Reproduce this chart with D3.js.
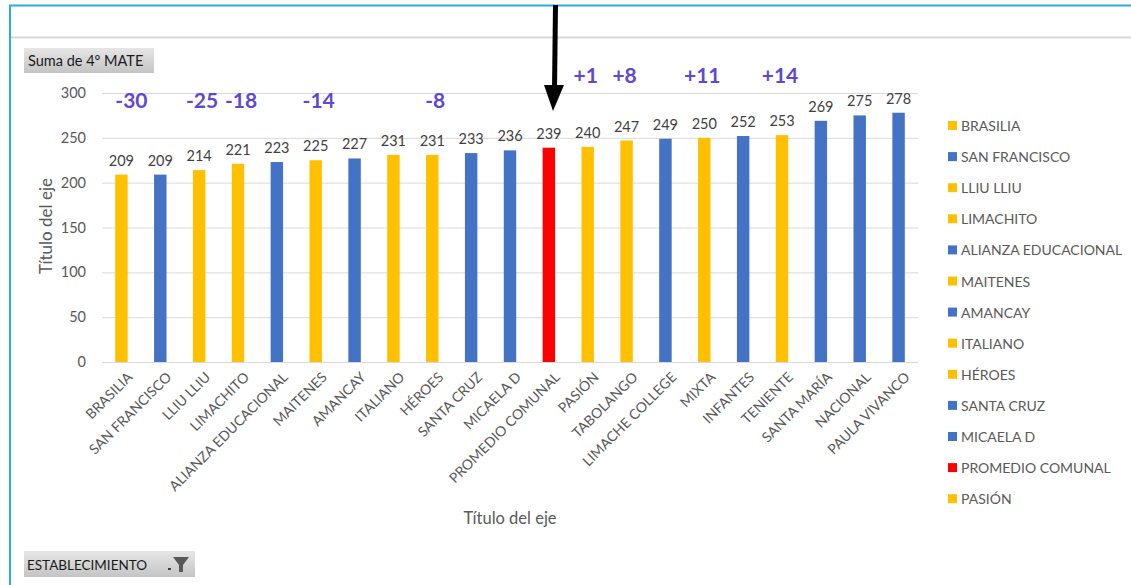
<!DOCTYPE html>
<html><head><meta charset="utf-8">
<script src="https://cdn.jsdelivr.net/npm/d3@7"></script>
<style>
html,body{margin:0;padding:0;background:#fff;}
svg{display:block;font-family:Lato,"Open Sans",sans-serif;}
</style></head>
<body>
<svg id="chart" width="1131" height="585"></svg>
<script>
const categories = ["BRASILIA","SAN FRANCISCO","LLIU LLIU","LIMACHITO","ALIANZA EDUCACIONAL","MAITENES","AMANCAY","ITALIANO","HÉROES","SANTA CRUZ","MICAELA D","PROMEDIO COMUNAL","PASIÓN","TABOLANGO","LIMACHE COLLEGE","MIXTA","INFANTES","TENIENTE","SANTA MARÍA","NACIONAL","PAULA VIVANCO"];
const values = [209,209,214,221,223,225,227,231,231,233,236,239,240,247,249,250,252,253,269,275,278];
const groups = ["y","b","y","y","b","y","b","y","y","b","b","r","y","y","b","y","b","y","b","b","b"];
const yTicks = [0,50,100,150,200,250,300];
const diffCats = ["BRASILIA","LLIU LLIU","LIMACHITO","MAITENES","HÉROES","PASIÓN","TABOLANGO","MIXTA","TENIENTE"];
const diffLabels = ["-30","-25","-18","-14","-8","+1","+8","+11","+14"];
const legendCount = 13;

const colors = {y:"#FFC000", b:"#4472C4", r:"#FF0000"};
const svg = d3.select("#chart");

// frame
svg.append("rect").attr("x",0).attr("y",0).attr("width",1131).attr("height",585).attr("fill","#fff");
svg.append("line").attr("x1",9).attr("x2",1131).attr("y1",5.5).attr("y2",5.5).attr("stroke","#2DAAE1").attr("stroke-width",2);
svg.append("line").attr("x1",10).attr("x2",10).attr("y1",5).attr("y2",585).attr("stroke","#2DAAE1").attr("stroke-width",2);
svg.append("line").attr("x1",11).attr("x2",1131).attr("y1",37.5).attr("y2",37.5).attr("stroke","#d9d9d9").attr("stroke-width",2);

// gradient for buttons
const defs = svg.append("defs");
const g1 = defs.append("linearGradient").attr("id","btn").attr("x1",0).attr("y1",0).attr("x2",0).attr("y2",1);
g1.append("stop").attr("offset","0%").attr("stop-color","#e6e6e6");
g1.append("stop").attr("offset","100%").attr("stop-color","#c4c4c4");

svg.append("rect").attr("x",24).attr("y",48).attr("width",130).attr("height",25).attr("fill","url(#btn)");
svg.append("text").attr("x",28).attr("y",66).attr("font-size",14.5).attr("fill","#1a1a1a").text("Suma de 4º MATE");

svg.append("rect").attr("x",24).attr("y",551).attr("width",171).attr("height",26).attr("fill","url(#btn)");
svg.append("text").attr("x",27).attr("y",569.5).attr("font-size",13.5).attr("fill","#1a1a1a").text("ESTABLECIMIENTO");
// funnel icon
svg.append("path").attr("d","M173,557 L189,557 L183,565 L183,572 L179,572 L179,565 Z").attr("fill","#595959");
svg.append("rect").attr("x",168).attr("y",568).attr("width",3).attr("height",2).attr("fill","#404040");

const x = d3.scaleBand().domain(categories).range([102,918]).paddingInner(0.68).paddingOuter(0.34);
const y = d3.scaleLinear().domain([0,300]).range([362,93]);

// gridlines
svg.append("g").selectAll("line").data(yTicks).join("line")
  .attr("x1",102).attr("x2",918).attr("y1",d=>y(d)+0.5).attr("y2",d=>y(d)+0.5)
  .attr("stroke","#d9d9d9").attr("stroke-width",1);

// y axis
const yAxis = svg.append("g").attr("transform","translate(102,0)")
  .call(d3.axisLeft(y).tickValues(yTicks).tickSize(0).tickPadding(16));
yAxis.select(".domain").remove();
yAxis.selectAll("text").attr("font-size",14.5).attr("fill","#595959").attr("font-family","Lato,sans-serif");

// bars
svg.append("g").selectAll("rect").data(categories).join("rect")
  .attr("x",d=>x(d)).attr("width",x.bandwidth())
  .attr("y",(d,i)=>y(values[i])).attr("height",(d,i)=>y(0)-y(values[i]))
  .attr("fill",(d,i)=>colors[groups[i]]);

// x axis
const xAxis = svg.append("g").attr("transform","translate(0,362)")
  .call(d3.axisBottom(x).tickSize(0).tickPadding(10));
xAxis.select(".domain").attr("stroke","#d9d9d9").attr("stroke-width",1).attr("d","M102,0.5H918");
xAxis.selectAll("text").attr("font-size",14).attr("fill","#595959").attr("font-family","Lato,sans-serif")
  .attr("text-anchor","end").attr("dy",0)
  .attr("transform","translate(5,9) rotate(-45)");

// data labels
svg.append("g").selectAll("text").data(categories).join("text")
  .attr("x",d=>x(d)+x.bandwidth()/2).attr("y",(d,i)=>y(values[i])-9)
  .attr("text-anchor","middle").attr("font-size",14.5).attr("fill","#404040")
  .text((d,i)=>values[i]);

// axis titles
svg.append("text").attr("transform","translate(52,226) rotate(-90)").attr("text-anchor","middle")
  .attr("font-size",17).attr("fill","#595959").text("Título del eje");
svg.append("text").attr("x",510).attr("y",524).attr("text-anchor","middle")
  .attr("font-size",16.5).attr("fill","#595959").text("Título del eje");

// difference annotations
svg.append("g").selectAll("text").data(diffCats).join("text")
  .attr("x",(d,i)=>x(d)+x.bandwidth()/2 + (i===0?10:(i<5?3:-2)))
  .attr("y",(d,i)=>diffLabels[i][0]==="-"?108:83)
  .attr("text-anchor","middle").attr("font-size",21).attr("font-weight","bold")
  .attr("fill","#5E48D3").text((d,i)=>diffLabels[i]);

// arrow
svg.append("line").attr("x1",555.5).attr("y1",5).attr("x2",554.5).attr("y2",90).attr("stroke","#000").attr("stroke-width",5);
svg.append("path").attr("d","M544,85 L564,85 L553,111 Z").attr("fill","#000");

// legend
const leg = svg.append("g").selectAll("g").data(categories.slice(0,legendCount)).join("g")
  .attr("transform",(d,i)=>`translate(948,${126 + i*31.1})`);
leg.append("rect").attr("x",0).attr("y",-5).attr("width",9).attr("height",9).attr("fill",(d,i)=>colors[groups[i]]);
leg.append("text").attr("x",13).attr("y",5).attr("font-size",14).attr("fill","#595959").text(d=>d);
</script>
</body></html>
